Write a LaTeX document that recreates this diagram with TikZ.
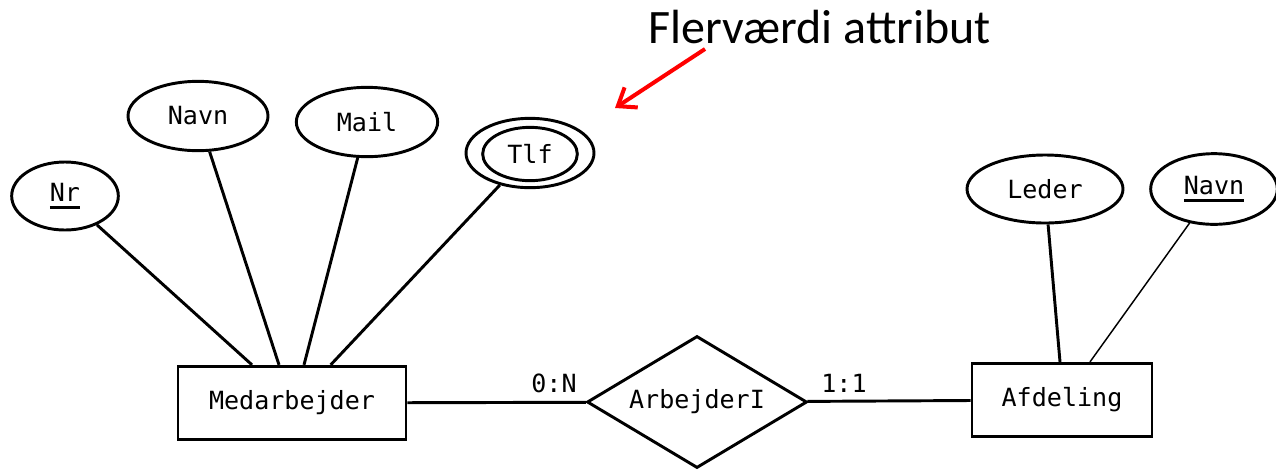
\documentclass[tikz,border=0pt]{standalone}
\usepackage{fontspec}
\setmainfont{Carlito}
\newfontfamily\ermono{DejaVu Sans Mono}
\usepackage{tikz}
\usetikzlibrary{arrows.meta,positioning,shapes.geometric}
\tikzstyle{attrib}=[draw,ellipse,line width=2.2pt,inner sep=0pt,minimum height=51pt,font=\ermono\fontsize{18.8}{18.8}\selectfont]
\tikzstyle{entity}=[draw,rectangle,line width=2.2pt,inner sep=0pt,minimum height=55pt,font=\ermono\fontsize{18.8}{18.8}\selectfont]
\tikzstyle{relation}=[draw,diamond,aspect=1.7,line width=2.2pt,inner sep=0pt,minimum width=165pt,minimum height=99pt,font=\ermono\fontsize{18.8}{18.8}\selectfont]
\tikzstyle{card}=[inner sep=0pt,font=\ermono\fontsize{18.8}{18.8}\selectfont]
\newcommand{\keyline}[1]{\setbox0\hbox{#1}\rlap{\rule[-6pt]{\wd0}{2.2pt}}\box0}

\begin{document}
\begin{tikzpicture}[x=0.75pt,y=-0.75pt,line width=2.2pt]
\useasboundingbox (0,0) rectangle (1276,469);
% entiteter og relation
\node [entity,minimum width=171pt] (med) at (292,403) {Medarbejder};
\node [relation] (arb) at (697,402) {ArbejderI};
\node [entity,minimum width=135pt] (afd) at (1062,400) {Afdeling};
\node [card] (kard1) at (554,383) {0:N};
\node [card] (kard2) at (844,383) {1:1};
% attributter
\node [attrib,minimum width=80pt] (nr) at (65,196) {\keyline{Nr}};
\node [attrib,minimum width=105pt,minimum height=52pt] (navn) at (198,116) {Navn};
\node [attrib,minimum width=106pt,minimum height=52pt] (mail) at (367,122) {Mail};
\node [attrib,minimum width=96pt,minimum height=52pt] (tlf) at (530,153) {};
\node [attrib,minimum width=71pt,minimum height=40pt] (tlfin) at (530,154) {Tlf};
\node [attrib,minimum width=117pt] (leder) at (1045,189) {Leder};
\node [attrib,minimum width=95pt,minimum height=53pt] (afdnavn) at (1214,189) {\keyline{Navn}};
% forbindelser
\draw (nr) -- ([xshift=-30pt]med.north);
\draw (navn) -- ([xshift=-9.75pt]med.north);
\draw (mail) -- ([xshift=9pt]med.north);
\draw (tlf) -- ([xshift=29pt]med.north);
\draw (med) -- (arb);
\draw (arb) -- (afd);
\draw (leder) -- ([xshift=-1.5pt]afd.north);
\draw [line width=1.1pt] (afdnavn) -- ([xshift=21pt]afd.north);
% forklaring
\node [anchor=base west,inner sep=0pt,font=\fontsize{36}{36}\selectfont] (flertitel) at (647,43) {Flerværdi attribut};
\coordinate (pilstart) at (705,49);
\coordinate (pilspids) at (615,108);
\draw [red,line width=3pt,-{Straight Barb[length=12pt,width=18pt]}] (pilstart) -- (pilspids);
\end{tikzpicture}
\end{document}
